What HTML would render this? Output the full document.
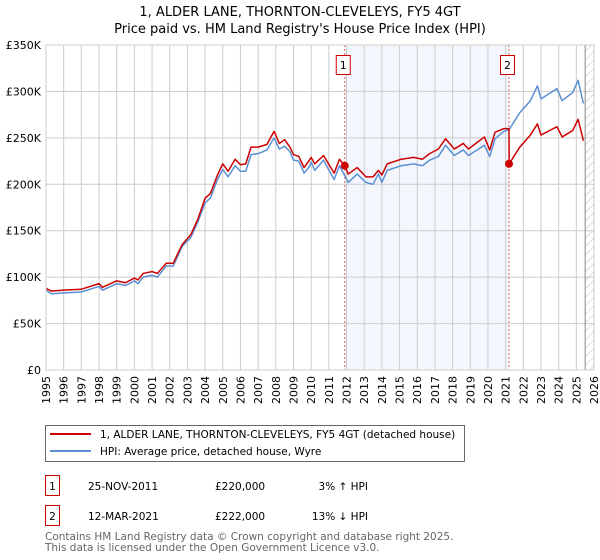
<!DOCTYPE html>
<html><head><meta charset="utf-8">
<style>
body{margin:0;background:#fff;font-family:"DejaVu Sans","Liberation Sans",sans-serif;}
#wrap{position:relative;width:600px;height:560px;overflow:hidden;}
svg text{font-family:"DejaVu Sans","Liberation Sans",sans-serif;}
</style></head><body>
<div id="wrap">
<svg id="chart" width="600" height="560">
<defs>
<pattern id="hatch" width="6" height="6" patternUnits="userSpaceOnUse" patternTransform="rotate(45)">
<line x1="0" y1="0" x2="0" y2="6" stroke="#bbb" stroke-width="1"/>
</pattern>
</defs>
<text x="300" y="16" text-anchor="middle" font-size="13" fill="#000">1, ALDER LANE, THORNTON-CLEVELEYS, FY5 4GT</text>
<text x="300" y="33" text-anchor="middle" font-size="13" fill="#000">Price paid vs. HM Land Registry's House Price Index (HPI)</text>
<g id="plot"></g>
<g>
<rect x="45.5" y="425.5" width="419" height="36" fill="#fff" stroke="#666"/>
<line x1="50" y1="434" x2="91" y2="434" stroke="#cc0000" stroke-width="2"/>
<text x="100" y="438" font-size="10.5">1, ALDER LANE, THORNTON-CLEVELEYS, FY5 4GT (detached house)</text>
<line x1="50" y1="451" x2="91" y2="451" stroke="#5b8fd4" stroke-width="2"/>
<text x="100" y="455" font-size="10.5">HPI: Average price, detached house, Wyre</text>
</g>
<g>
<rect x="45.5" y="475.5" width="14" height="20" fill="#fff" stroke="#cc0000"/>
<text x="52.5" y="490" font-size="10.5" text-anchor="middle">1</text>
<text x="88" y="490" font-size="10.5">25-NOV-2011</text>
<text x="215" y="490" font-size="10.5">£220,000</text>
<text x="368" y="490" font-size="10.5" text-anchor="end">3% ↑ HPI</text>
<rect x="45.5" y="505.5" width="14" height="20" fill="#fff" stroke="#cc0000"/>
<text x="52.5" y="520" font-size="10.5" text-anchor="middle">2</text>
<text x="88" y="520" font-size="10.5">12-MAR-2021</text>
<text x="215" y="520" font-size="10.5">£222,000</text>
<text x="368" y="520" font-size="10.5" text-anchor="end">13% ↓ HPI</text>
</g>
<text x="45" y="540" font-size="10.5" fill="#666">Contains HM Land Registry data © Crown copyright and database right 2025.</text>
<text x="45" y="551" font-size="10.5" fill="#666">This data is licensed under the Open Government Licence v3.0.</text>
</svg>
</div>
<script>
const yearTicks=[1995,1996,1997,1998,1999,2000,2001,2002,2003,2004,2005,2006,2007,2008,2009,2010,2011,2012,2013,2014,2015,2016,2017,2018,2019,2020,2021,2022,2023,2024,2025,2026];
const valueTicks=[0,50000,100000,150000,200000,250000,300000,350000];
const valueLabels=["£0","£50K","£100K","£150K","£200K","£250K","£300K","£350K"];
const hpiYears=[1995,1995.3,1996,1997,1997.5,1998,1998.2,1999,1999.5,2000,2000.2,2000.5,2001,2001.3,2001.8,2002.2,2002.7,2003.2,2003.6,2004,2004.3,2004.7,2005,2005.3,2005.7,2006,2006.3,2006.6,2007,2007.5,2007.9,2008.2,2008.5,2008.8,2009,2009.3,2009.6,2009.9,2010,2010.2,2010.7,2011.3,2011.6,2012.1,2012.6,2013.1,2013.5,2013.8,2014,2014.3,2015.1,2015.8,2016.3,2016.7,2017.2,2017.6,2018.1,2018.6,2018.9,2019.8,2020.1,2020.4,2020.9,2021.2,2021.8,2022.4,2022.8,2023.0,2023.9,2024.2,2024.8,2025.1,2025.4];
const hpiValues=[86,82,83,84,87,90,86,93,91,96,93,100,102,100,112,112,133,143,160,180,185,205,216,208,220,214,214,232,233,237,250,238,241,235,226,225,212,219,224,215,226,205,220,202,211,202,200,211,202,215,220,222,220,226,230,242,231,237,231,242,230,249,257,259,277,290,306,292,303,290,299,312,287];
const propYears=[1995,1995.3,1996,1997,1997.5,1998,1998.2,1999,1999.5,2000,2000.2,2000.5,2001,2001.3,2001.8,2002.2,2002.7,2003.2,2003.6,2004,2004.3,2004.7,2005,2005.3,2005.7,2006,2006.3,2006.6,2007,2007.5,2007.9,2008.2,2008.5,2008.8,2009,2009.3,2009.6,2009.9,2010,2010.2,2010.7,2011.3,2011.6,2011.9,2012.1,2012.6,2013.1,2013.5,2013.8,2014,2014.3,2015.1,2015.8,2016.3,2016.7,2017.2,2017.6,2018.1,2018.6,2018.9,2019.8,2020.1,2020.4,2020.9,2021.19,2021.2,2021.8,2022.4,2022.8,2023.0,2023.9,2024.2,2024.8,2025.1,2025.4];
const propValues=[88,85,86,87,90,93,89,96,94,99,97,104,106,104,115,115,135,146,163,185,190,210,222,214,227,221,222,240,240,243,257,244,248,240,232,230,218,226,229,222,231,212,227,220,211,218,208,208,215,210,222,227,229,227,233,238,249,238,244,238,251,237,256,260,260,222,240,253,265,253,262,251,258,270,247];
const saleYears=[2011.9,2021.19];
const saleValues=[220,222];
const saleLabels=["1","2"];

const L=46,R=594,T=45,B=370,Y0=1995,Y1=2026,VMAX=350000;
const xs=y=>L+(y-Y0)/(Y1-Y0)*(R-L);
const ys=v=>B-v/VMAX*(B-T);
const NS="http://www.w3.org/2000/svg";
const plot=document.getElementById('plot');
function mk(tag,attrs,parent){const e=document.createElementNS(NS,tag);for(const k in attrs)e.setAttribute(k,attrs[k]);(parent||plot).appendChild(e);return e;}

let r=mk('rect',{x:xs(saleYears[0]),y:T,width:xs(saleYears[1])-xs(saleYears[0]),height:B-T,fill:'#eef3fc',opacity:0.7});


let h=mk('rect',{x:xs(2025.5),y:T,width:R-xs(2025.5),height:B-T,fill:'url(#hatch)'});



yearTicks.forEach(yr=>{
  const x=xs(yr);
  const g=mk('line',{x1:x,y1:T,x2:x,y2:B,stroke:'#cccccc','stroke-width':1});
  
  
  const t=mk('text',{x:0,y:0,'font-size':11,'text-anchor':'end',transform:`translate(${x+4},${B+6}) rotate(-90)`});
  t.textContent=yr;
  
  
});
valueTicks.forEach((v,i)=>{
  const y=ys(v);
  const g=mk('line',{x1:L,y1:y,x2:R,y2:y,stroke:'#cccccc','stroke-width':1});
  
  
  const t=mk('text',{x:L-5,y:y+4,'font-size':11,'text-anchor':'end'});
  t.textContent=valueLabels[i];
  
  
});
let cl=mk('line',{x1:xs(2025.5),y1:T,x2:xs(2025.5),y2:B,stroke:'#888','stroke-width':1});



saleYears.forEach((yr,i)=>{
  const x=xs(yr);
  const l=mk('line',{x1:x,y1:T,x2:x,y2:B,stroke:'#e06060','stroke-width':1,'stroke-dasharray':'2,2'});
  
  
  const b=mk('rect',{x:x-8.5,y:55.5,width:14,height:19,fill:'#fff',stroke:'#cc0000'});
  
  
  const t=mk('text',{x:x-1.5,y:69,'font-size':11,'text-anchor':'middle'});
  t.textContent=saleLabels[i];
  
  
});

const hp=mk('polyline',{points:hpiYears.map((y,i)=>xs(y)+','+ys(hpiValues[i]*1000)).join(' '),fill:'none',stroke:'#5b8fd4','stroke-width':1.5,'stroke-linejoin':'round'});


const pp=mk('polyline',{points:propYears.map((y,i)=>xs(y)+','+ys(propValues[i]*1000)).join(' '),fill:'none',stroke:'#cc0000','stroke-width':1.5,'stroke-linejoin':'round'});


saleYears.forEach((yr,i)=>{
  const c=mk('circle',{cx:xs(yr),cy:ys(saleValues[i]*1000),r:4,fill:'#cc0000'});
  
  
});
let ax=mk('rect',{x:L,y:T,width:R-L,height:B-T,fill:'none',stroke:'#cccccc'});


</script>
</body></html>
